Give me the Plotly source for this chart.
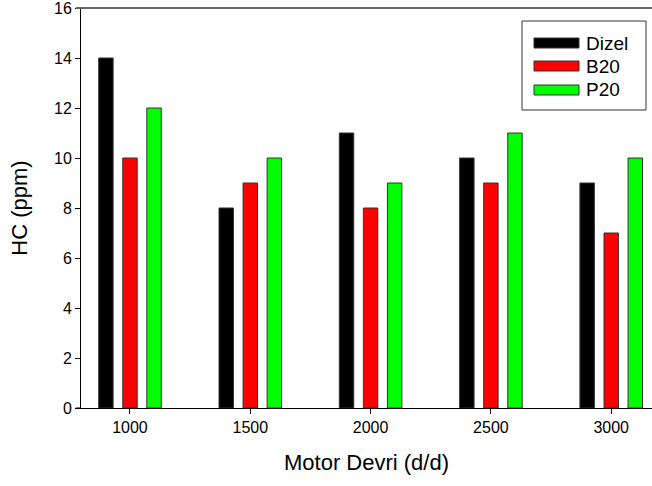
import plotly.graph_objects as go

categories = ["1000", "1500", "2000", "2500", "3000"]
dizel = [14, 8, 11, 10, 9]
b20 = [10, 9, 8, 9, 7]
p20 = [12, 10, 9, 11, 10]
series_names = ["Dizel", "B20", "P20"]
colors = ["#000000", "#ff0000", "#00ff00"]
y_ticks = [0, 2, 4, 6, 8, 10, 12, 14, 16]

offsets = [-0.2, 0.0, 0.2]
idx = list(range(len(categories)))

fig = go.Figure()
for name, vals, col, off in zip(series_names, [dizel, b20, p20], colors, offsets):
    fig.add_trace(go.Bar(
        x=[i + off for i in idx], y=vals, name=name, width=0.12,
        marker=dict(color=col, line=dict(color="#333333", width=1)),
        showlegend=False,
    ))

font_family = "Liberation Sans, Arial, sans-serif"
fig.update_layout(
    width=652, height=486,
    margin=dict(l=81, r=0, t=8, b=78),
    plot_bgcolor="white", paper_bgcolor="white",
    font=dict(family=font_family, color="black", size=16),
    barmode="overlay",
    xaxis=dict(
        range=[-0.407, 4.339], tickmode="array", tickvals=idx, ticktext=categories,
        showgrid=False, zeroline=False, showline=True, linecolor="black", linewidth=1,
        ticks="outside", ticklen=5, tickcolor="black",
        title=dict(text="Motor Devri (d/d)", font=dict(size=22), standoff=19),
        tickfont=dict(size=16), ticklabeloverflow="allow",
    ),
    yaxis=dict(
        range=[0, 16], tickvals=y_ticks,
        showgrid=False, zeroline=False, showline=True, linecolor="black", linewidth=1,
        ticks="outside", ticklen=5, tickcolor="black",
        title=dict(text="HC (ppm)", font=dict(size=22), standoff=20),
        tickfont=dict(size=16), ticklabeloverflow="allow",
    ),
)

# gray top frame line
fig.add_shape(type="line", xref="paper", yref="paper", x0=-0.009, x1=1, y0=1, y1=1,
              line=dict(color="#666666", width=2))
# left line extension to join bottom
fig.add_shape(type="line", xref="paper", yref="paper", x0=-0.009, x1=0, y0=0, y1=0,
              line=dict(color="black", width=1))

# custom legend
pw = 652 - 81
ph = 486 - 8 - 78
def px(xp):
    return (xp - 81) / pw
def py(yp):
    return (486 - 78 - yp) / ph

fig.add_shape(type="rect", xref="paper", yref="paper",
              x0=px(522), x1=px(646), y0=py(110), y1=py(21),
              line=dict(color="#333333", width=1), fillcolor="white")
ycent = [43, 66, 90]
for name, col, yc in zip(series_names, colors, ycent):
    fig.add_shape(type="rect", xref="paper", yref="paper",
                  x0=px(534), x1=px(579), y0=py(yc + 5), y1=py(yc - 5),
                  line=dict(color="#333333", width=1), fillcolor=col)
    fig.add_annotation(xref="paper", yref="paper", x=px(584), y=py(yc),
                       text=name, showarrow=False, xanchor="left", yanchor="middle",
                       font=dict(size=19, family=font_family, color="black"))

fig.write_html("out.html")
